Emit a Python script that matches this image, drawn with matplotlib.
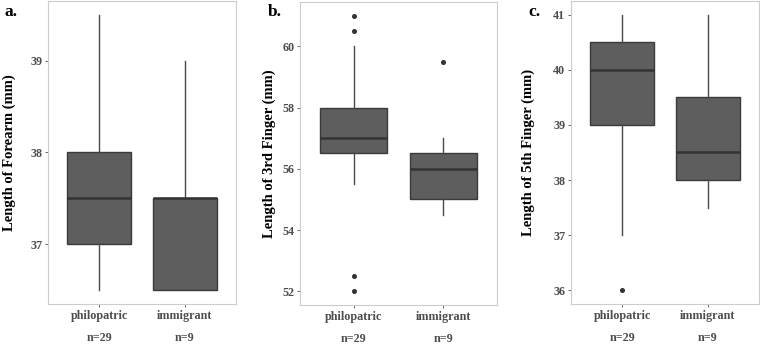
import matplotlib
matplotlib.use("Agg")
import matplotlib.pyplot as plt

plt.rcParams['font.family'] = ['Liberation Serif', 'DejaVu Serif']
plt.rcParams['font.weight'] = 'bold'

groups = ["philopatric", "immigrant"]
counts = ["n=29", "n=9"]

# forearm (a)
forearm_lo = [36.5, 36.5]
forearm_q1 = [37.0, 36.5]
forearm_med = [37.5, 37.5]
forearm_q3 = [38.0, 37.5]
forearm_hi = [39.5, 39.0]
forearm_out = [[], []]

# 3rd finger (b)
f3_lo = [55.5, 54.5]
f3_q1 = [56.5, 55.0]
f3_med = [57.0, 56.0]
f3_q3 = [58.0, 56.5]
f3_hi = [60.0, 57.0]
f3_out = [[61.0, 60.5, 52.5, 52.0], [59.5]]

# 5th finger (c)
f5_lo = [37.0, 37.5]
f5_q1 = [39.0, 38.0]
f5_med = [40.0, 38.5]
f5_q3 = [40.5, 39.5]
f5_hi = [41.0, 41.0]
f5_out = [[36.0], []]

panels = [
    ("a.", "Length of Forearm (mm)", forearm_lo, forearm_q1, forearm_med, forearm_q3, forearm_hi, forearm_out, [37, 38, 39]),
    ("b.", "Length of 3rd Finger (mm)", f3_lo, f3_q1, f3_med, f3_q3, f3_hi, f3_out, [52, 54, 56, 58, 60]),
    ("c.", "Length of 5th Finger (mm)", f5_lo, f5_q1, f5_med, f5_q3, f5_hi, f5_out, [36, 37, 38, 39, 40, 41]),
]

# axes rectangles in figure fractions (left, bottom, width, height)
rects = [
    (0.0632, 0.1163, 0.2474, 0.8808),
    (0.3947, 0.1134, 0.2592, 0.8808),
    (0.7513, 0.1163, 0.2474, 0.8808),
]
label_x = [0.006, 0.353, 0.695]
ylab_x = [-0.17, -0.122, -0.19]

fig = plt.figure(figsize=(7.6, 3.44), dpi=100)

for k, (tag, ylab, lo, q1, med, q3, hi, out, yt) in enumerate(panels):
    ax = fig.add_axes(rects[k])
    stats = []
    for i in range(2):
        stats.append(dict(whislo=lo[i], q1=q1[i], med=med[i], q3=q3[i],
                          whishi=hi[i], fliers=out[i], label=groups[i]))
    ax.bxp(stats, positions=[1, 2], widths=0.75, patch_artist=True,
           showcaps=False,
           boxprops=dict(facecolor="#5e5e5e", edgecolor="#3a3a3a", linewidth=1.0),
           medianprops=dict(color="#333333", linewidth=1.8),
           whiskerprops=dict(color="#4a4a4a", linewidth=1.0),
           flierprops=dict(marker="o", markersize=2.6, markerfacecolor="#333333",
                           markeredgecolor="#333333"))
    allv = lo + hi + [v for o in out for v in o]
    vmin, vmax = min(allv), max(allv)
    pad = (vmax - vmin) * 0.05
    ax.set_ylim(vmin - pad, vmax + pad)
    ax.set_xlim(0.4, 2.6)
    ax.set_yticks(yt)
    ax.set_yticklabels([str(v) for v in yt])
    ax.set_xticks([1, 2])
    ax.set_xticklabels(groups)
    ax.tick_params(axis="both", colors="#4d4d4d", labelsize=8.7, length=2.5, width=0.6)
    ax.tick_params(axis="x", pad=2)
    ax.tick_params(axis="y", pad=1.5)
    for lbl in ax.get_xticklabels() + ax.get_yticklabels():
        lbl.set_fontweight("bold")
        lbl.set_color("#4d4d4d")
    # sample sizes under the group labels
    for i, n in enumerate(counts):
        ax.text(i + 1, -0.112, n, transform=ax.get_xaxis_transform(),
                ha="center", va="center", fontsize=8.7, fontweight="bold",
                color="#4d4d4d")
    ax.set_ylabel(ylab, fontsize=10.5, fontweight="bold", color="black")
    ax.yaxis.set_label_coords(ylab_x[k], 0.5)
    for s in ax.spines.values():
        s.set_color("#cccccc")
        s.set_linewidth(0.8)
    fig.text(label_x[k], 0.965, tag, fontsize=12.5, fontweight="bold", va="center")

fig.savefig("out.png", dpi=100)
